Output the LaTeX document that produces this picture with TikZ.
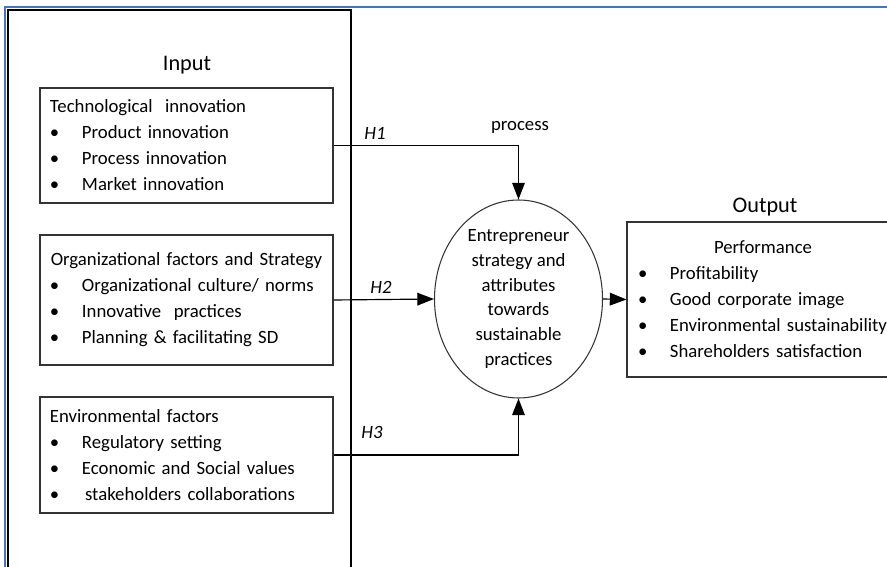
\documentclass[tikz,border=0pt]{standalone}
\usepackage{fontspec}
\setmainfont{Carlito}
\usetikzlibrary{shapes.geometric,arrows.meta}
\definecolor{frameblue}{RGB}{72,114,196}
\newcommand{\itm}[1]{\mbox{\makebox[0.96cm][l]{\textbullet}#1}}
\tikzset{
    listbox/.style={draw=black!80, line width=0.9pt, align=left, inner xsep=0.3cm,
        inner ysep=0pt, font=\fontsize{16}{22.2}\selectfont},
    flow/.style={line width=1pt, -{Triangle[length=0.5cm,width=0.38cm]}},
    hlabel/.style={font=\fontsize{16}{19}\selectfont\itshape},
    title/.style={font=\fontsize{19}{23}\selectfont},
}
\begin{document}
\begin{tikzpicture}[x=0.03cm, y=-0.03cm]
    \useasboundingbox (0,0) rectangle (887,567);

    % Page frame
    \draw[frameblue, line width=1.6pt] (5,567) -- (5,7) -- (887,7);
    \draw[line width=1pt] (8,567) -- (8,10) -- (351,10) -- (351,567);

    % Input side
    \node[title] (input) at (187,65) {Input};
    \node[listbox, text width=8.19cm, minimum height=3.45cm] (tech) at (186.5,145.5)
        {Technological\ \ innovation\\ \itm{Product innovation}\\ \itm{Process innovation}\\ \itm{Market innovation}};
    \node[listbox, text width=8.19cm, minimum height=3.9cm] (org) at (186.5,300)
        {\makebox[\linewidth]{Organizational factors and Strategy}\\ \itm{Organizational culture/ norms}\\ \itm{Innovative\ \ practices}\\ \itm{Planning \& facilitating SD}};
    \node[listbox, text width=8.19cm, minimum height=3.48cm] (env) at (186.5,455)
        {Environmental factors\\ \itm{Regulatory setting}\\ \itm{Economic and Social values}\\ \itm{\,stakeholders collaborations}};

    % Process
    \node[ellipse, draw=black!80, line width=0.9pt, minimum width=5.04cm, minimum height=5.94cm, inner sep=0pt] (core) at (518.5,299) {};
    \node[align=center, font=\fontsize{16}{21.3}\selectfont] (coretext) at (core.center)
        {Entrepreneur\\ strategy and\\ attributes\\ towards\\ sustainable\\ practices};
    \node[font=\fontsize{16}{19}\selectfont] (proc) at (520,127) {process};

    % Output side
    \node[title] (output) at (765,207) {Output};
    \node[listbox, text width=7.2cm, minimum height=4.65cm, inner xsep=0.33cm] (perf) at (758,299.5)
        {\makebox[\linewidth]{\hspace{0.3cm}Performance}\\ \itm{Profitability}\\ \itm{Good corporate image}\\ \itm{Environmental sustainability}\\ \itm{Shareholders satisfaction}};

    % Hypotheses
    \draw[flow] (tech.east) -| (core.north);
    \draw[flow] (org.east) -- (core.west);
    \draw[flow] (env.east) -| (core.south);
    \draw[flow] (core.east) -- (perf.west);
    \node[hlabel] (h1) at (375,133) {H1};
    \node[hlabel] (h2) at (381,287) {H2};
    \node[hlabel] (h3) at (372,432) {H3};
\end{tikzpicture}
\end{document}
